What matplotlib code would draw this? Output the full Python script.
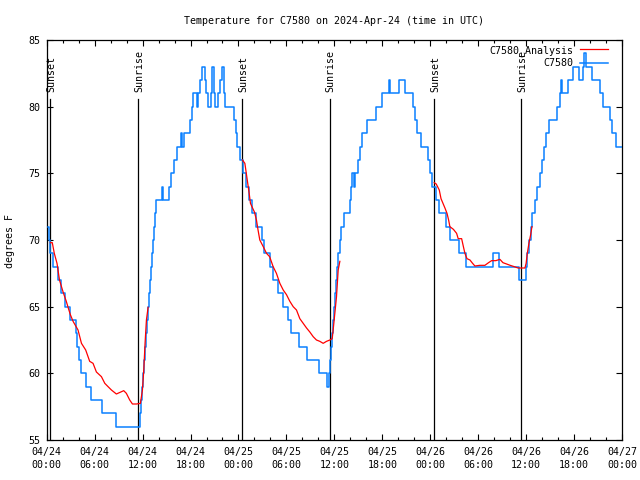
import matplotlib
matplotlib.use('Agg')
import matplotlib.pyplot as plt
import matplotlib.transforms as mtransforms
from matplotlib.ticker import FixedLocator, MultipleLocator

# ---------------- data (hours since 04/24 00:00 UTC) ----------------
obs_t = [0.15, 0.25, 0.4, 0.85, 1.45, 1.75, 2.25, 2.9, 3.7, 3.85, 4.05, 4.35, 4.95, 5.55,
         6.9, 8.7, 11.65, 11.8, 11.9, 12.0, 12.15, 12.3, 12.4, 12.55, 12.65, 12.75, 12.9,
         13.0, 13.15, 13.25, 13.4, 13.55, 13.7, 14.4, 14.6, 15.35, 15.55, 15.9, 16.3, 16.8,
         16.95, 17.15, 17.95, 18.15, 18.3, 18.75, 18.9, 19.15, 19.4, 19.75, 19.95, 20.15,
         20.55, 20.75, 20.95, 21.1, 21.5, 21.7, 21.95, 22.15, 22.35, 23.5, 23.65, 23.85,
         24.15, 24.6, 24.95, 25.3, 25.7, 26.15, 26.9, 27.25, 27.95, 28.3, 29.0, 29.6, 30.25,
         30.55, 31.55, 32.6, 34.1, 35.05, 35.3, 35.4, 35.55, 35.7, 35.8, 35.95, 36.05, 36.2,
         36.35, 36.5, 36.7, 36.85, 37.15, 37.9, 38.1, 38.25, 38.4, 38.6, 38.9, 39.15, 39.5,
         40.1, 41.25, 41.95, 42.8, 42.95, 44.05, 44.9, 45.85, 46.1, 46.35, 46.9, 47.75,
         47.95, 48.25, 48.7, 49.1, 50.0, 50.45, 51.6, 52.45, 55.9, 56.6, 59.1, 60.0, 60.15,
         60.35, 60.55, 60.75, 61.15, 61.4, 61.7, 62.0, 62.3, 62.55, 62.85, 63.9, 64.2, 64.4,
         64.55, 65.2, 65.85, 66.6, 67.1, 67.3, 67.5, 68.3, 69.3, 69.6, 70.45, 70.8, 71.25,
         72.0]
obs_v = [71, 70, 69, 68, 67, 66, 65, 64, 63, 62, 61, 60, 59, 58,
         57, 56, 57, 58, 59, 60, 61, 62, 63, 64, 65, 66, 67,
         68, 69, 70, 71, 72, 73, 74, 73, 74, 75, 76, 77, 78,
         77, 78, 79, 80, 81, 80, 81, 82, 83, 82, 81, 80,
         81, 83, 81, 80, 81, 82, 83, 81, 80, 79, 78, 77,
         76, 75, 74, 73, 72, 71, 70, 69, 68, 67, 66, 65, 64,
         63, 62, 61, 60, 59, 60, 61, 62, 63, 64, 65, 66, 67,
         68, 69, 70, 71, 72, 73, 74, 75, 74, 75, 76, 77, 78,
         79, 80, 81, 82, 81, 82, 81, 80, 79, 78, 77, 76,
         75, 74, 73, 72, 71, 70, 69, 68, 69, 68, 67, 68, 69,
         70, 71, 72, 73, 74, 75, 76, 77, 78, 79, 80, 81, 82,
         81, 82, 83, 82, 83, 84, 83, 82, 81, 80, 79, 78, 77,
         77]

ana1_t = [0.46, 0.7, 0.95, 1.29, 1.6, 2.05, 2.45, 2.7, 2.96, 3.3, 3.92, 4.35, 4.88, 5.38,
          5.8, 6.22, 6.85, 7.27, 7.68, 8.10, 8.72, 9.64, 9.97, 10.39, 10.73, 11.23, 11.73,
          11.98, 12.15, 12.31, 12.48, 12.69]
ana1_v = [69.8, 69.8, 69.0, 68.25, 67.0, 66.1, 65.4, 64.9, 64.4, 63.9, 63.25, 62.25, 61.75,
          60.9, 60.75, 60.1, 59.75, 59.25, 59.0, 58.75, 58.45, 58.7, 58.5, 58.0, 57.7, 57.7,
          57.75, 58.75, 60.25, 62.25, 64.0, 64.95]

ana2_t = [24.5, 24.8, 24.92, 25.1, 25.34, 25.5, 25.84, 26.0, 26.25, 26.45, 26.67, 27.1, 27.51,
          27.9, 28.34, 28.75, 29.18, 29.6, 30.01, 30.43, 30.85, 31.26, 31.68, 32.1, 32.52,
          32.93, 33.35, 33.76, 34.18, 34.6, 35.02, 35.44, 35.73, 35.85, 36.06, 36.27, 36.48,
          36.69]
ana2_v = [76.0, 75.75, 75.25, 74.5, 73.5, 72.75, 72.3, 72.1, 71.5, 70.75, 70.0, 69.5, 69.0,
          68.75, 68.0, 67.5, 66.75, 66.25, 65.9, 65.4, 65.0, 64.75, 64.1, 63.75, 63.4, 63.1,
          62.75, 62.5, 62.4, 62.25, 62.4, 62.5, 62.6, 63.25, 64.5, 65.75, 67.75, 68.4]

ana3_t = [48.5, 48.75, 49.13, 49.35, 49.84, 50.1, 50.3, 50.46, 50.9, 51.3, 51.5, 51.93,
          52.15, 52.34, 52.6, 52.97, 53.3, 53.59, 54.2, 54.84, 55.3, 55.68, 56.2, 56.72,
          57.1, 57.56, 58.0, 58.52, 59.0, 59.44, 59.85, 60.0, 60.15, 60.35, 60.57, 60.73]
ana3_v = [74.3, 74.2, 73.75, 73.1, 72.4, 72.0, 71.5, 71.0, 70.8, 70.5, 70.1, 70.1,
          69.5, 69.0, 68.6, 68.5, 68.25, 68.05, 68.1, 68.1, 68.3, 68.45, 68.45, 68.55,
          68.3, 68.2, 68.1, 68.0, 67.9, 67.9, 67.9, 68.25, 69.0, 69.75, 70.4, 71.0]

sun_t = [0.45, 11.47, 24.5, 35.4, 48.5, 59.4]
sun_lbl = ['Sunset', 'Sunrise', 'Sunset', 'Sunrise', 'Sunset', 'Sunrise']

xtick_pos = [0, 6, 12, 18, 24, 30, 36, 42, 48, 54, 60, 66, 72]
xtick_lbl = ['04/24\n00:00', '04/24\n06:00', '04/24\n12:00', '04/24\n18:00',
             '04/25\n00:00', '04/25\n06:00', '04/25\n12:00', '04/25\n18:00',
             '04/26\n00:00', '04/26\n06:00', '04/26\n12:00', '04/26\n18:00',
             '04/27\n00:00']
ytick_pos = [55, 60, 65, 70, 75, 80, 85]

title = 'Temperature for C7580 on 2024-Apr-24 (time in UTC)'

# ---------------- plotting ----------------
plt.rcParams['font.family'] = ['DejaVu Sans Mono']
fs = 7.2
blue = '#0a80ff'

fig = plt.figure(figsize=(6.4, 4.8), dpi=100)
ax = fig.add_axes([46.7 / 640, 1 - 440 / 480, 575.3 / 640, 400 / 480])

ax.step(obs_t + [72.0], obs_v + [obs_v[-1]], where='post', color=blue, lw=1.1,
        label='C7580', zorder=3)
ax.plot(ana1_t, ana1_v, color='red', lw=0.9, label='C7580_Analysis', zorder=4)
ax.plot(ana2_t, ana2_v, color='red', lw=0.9, zorder=4)
ax.plot(ana3_t, ana3_v, color='red', lw=0.9, zorder=4)

trans = mtransforms.blended_transform_factory(ax.transData, ax.transAxes)
for t, lbl in zip(sun_t, sun_lbl):
    ax.axvline(t, ymin=0, ymax=0.8525, color='black', lw=0.9, zorder=2)
    ax.text(t + 0.12, 0.87, lbl, rotation=90, transform=trans, ha='center',
            va='bottom', fontsize=fs)

ax.set_xlim(0, 72)
ax.set_ylim(55, 85)
ax.xaxis.set_major_locator(FixedLocator(xtick_pos))
ax.set_xticklabels(xtick_lbl, fontsize=fs, linespacing=1.35)
ax.xaxis.set_minor_locator(MultipleLocator(2))
ax.yaxis.set_major_locator(FixedLocator(ytick_pos))
ax.set_yticklabels([str(v) for v in ytick_pos], fontsize=fs)

ax.tick_params(axis='both', which='major', direction='in', top=True, right=True,
               length=4.3, width=0.8)
ax.tick_params(axis='x', which='major', pad=5)
ax.tick_params(axis='y', which='major', pad=4.5)
ax.tick_params(axis='both', which='minor', direction='in', top=True, right=True,
               length=2.2, width=0.8)
for s in ax.spines.values():
    s.set_linewidth(0.9)

h, l = ax.get_legend_handles_labels()
order = [l.index('C7580_Analysis'), l.index('C7580')]
ax.legend([h[i] for i in order], [l[i] for i in order], loc='upper right',
          bbox_to_anchor=(1 - 9 / 575.3, 1.0),
          markerfirst=False, frameon=False, fontsize=fs, handlelength=2.8,
          handletextpad=0.7, labelspacing=0.25, borderaxespad=0.3, borderpad=0.2)

fig.text(334.5 / 640, 1 - 20.5 / 480, title, ha='center', va='center', fontsize=fs)
fig.text(10 / 640, 1 - 241 / 480, 'degrees F', rotation=90, ha='center', va='center',
         fontsize=fs)

fig.savefig('out.png', dpi=100)
